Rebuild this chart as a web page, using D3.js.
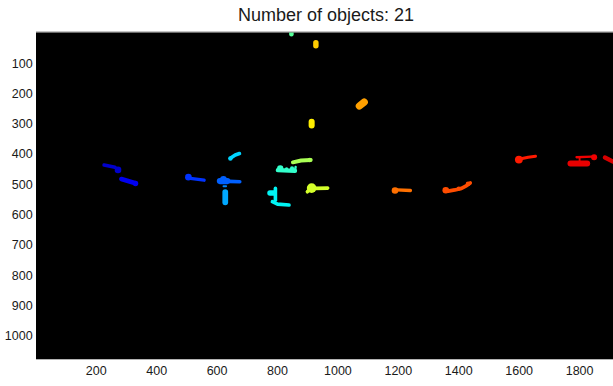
<!DOCTYPE html>
<html>
<head>
<meta charset="utf-8">
<script src="https://cdn.jsdelivr.net/npm/d3@7"></script>
<style>
  html, body { margin: 0; padding: 0; background: #fff; }
  svg { display: block; }
  text { font-family: "Liberation Sans", Arial, Helvetica, sans-serif; fill: #1a1a1a; }
</style>
</head>
<body>
<svg id="chart" width="613" height="386"></svg>
<script>
// ---- data (image pixel coordinates, 1920 x 1080 label image) ----
const titleText = "Number of objects: 21";
const xTicks = [200, 400, 600, 800, 1000, 1200, 1400, 1600, 1800];
const yTicks = [100, 200, 300, 400, 500, 600, 700, 800, 900, 1000];
const imageSize = [1920, 1080];

// label colours (jet-like, ordered by label)
const objectColors = [
  "#0000cc", "#0000f0", "#0033ff", "#0060ff", "#0088ff", "#00a8ff", "#00d4ff",
  "#00f4f4", "#33ffcc", "#55ff99", "#aaff55", "#d4ff2a", "#ffee00", "#ffcc00",
  "#ffa000", "#ff7000", "#ff4d00", "#ff1a00", "#f00000", "#e80000", "#d80000"
];

// each object: list of strokes, a stroke = [width, [x,y], [x,y], ...]
const objectStrokes = [
  [[12, [226,439], [262,446]], [22, [272,455]]],
  [[15, [283,485], [330,499]], [18, [330,500]]],
  [[22, [505,479]], [11, [505,482], [557,489]]],
  [[20, [609,492], [634,492]], [22, [621,486]], [12, [640,493], [675,494]]],
  [[6, [621,509], [630,509]]],
  [[19, [627,528], [627,562]]],
  [[12, [645,416], [660,406], [674,401]], [15, [644,417]]],
  [[12, [793,516], [793,555]], [18, [775,531], [789,531]], [12, [783,560], [800,568], [838,571]]],
  [[14, [801,456], [858,458]], [21, [809,450]], [12, [830,452]], [14, [848,450]], [8, [858,456], [860,445]]],
  [[15, [846,-10], [846,7]]],
  [[13, [851,430], [878,424], [910,422]], [15, [907,422]]],
  [[32, [913,515]], [12, [899,527], [906,521]], [12, [925,516], [966,515]]],
  [[20, [913,296], [913,308]]],
  [[18, [927,35], [927,45]]],
  [[24, [1071,244], [1087,231]]],
  [[22, [1189,523]], [11, [1195,521], [1240,523]]],
  [[22, [1357,522]], [12, [1365,525], [1387,521], [1409,516], [1426,507], [1438,498]], [14, [1400,517]], [16, [1431,501]]],
  [[26, [1599,421]], [10, [1606,418], [1630,413], [1654,410]]],
  [[8, [1790,413], [1840,411]], [20, [1848,413]], [6, [1800,413], [1800,428]]],
  [[20, [1770,434], [1825,434]]],
  [[14, [1884,414], [1912,428], [1925,432]]]
];

// ---- drawing ----
const svg = d3.select("#chart");
const plot = { left: 36, top: 32.3, right: 616, bottom: 359.3 };

const x = d3.scaleLinear().domain([0.5, imageSize[0] + 0.5]).range([plot.left, plot.right]);
const y = d3.scaleLinear().domain([0.5, imageSize[1] + 0.5]).range([plot.top, plot.bottom]);
const k = x(1) - x(0);

svg.append("defs").append("clipPath").attr("id", "clip")
  .append("rect")
  .attr("x", plot.left).attr("y", plot.top)
  .attr("width", plot.right - plot.left).attr("height", plot.bottom - plot.top);

svg.append("rect")
  .attr("x", plot.left).attr("y", plot.top)
  .attr("width", plot.right - plot.left).attr("height", plot.bottom - plot.top)
  .attr("fill", "#000");

const line = d3.line().x(d => x(d[0])).y(d => y(d[1])).curve(d3.curveLinear);

const g = svg.append("g").attr("clip-path", "url(#clip)");
objectStrokes.forEach((strokes, i) => {
  const og = g.append("g").attr("class", "object");
  strokes.forEach(s => {
    const w = s[0];
    let pts = s.slice(1);
    if (pts.length === 1) pts = [pts[0], [pts[0][0] + 0.01, pts[0][1]]];
    og.append("path")
      .attr("d", line(pts))
      .attr("fill", "none")
      .attr("stroke", objectColors[i])
      .attr("stroke-width", w * k)
      .attr("stroke-linecap", "round")
      .attr("stroke-linejoin", "round");
  });
});

// top border
svg.append("line")
  .attr("x1", plot.left).attr("x2", plot.right)
  .attr("y1", plot.top - 0.3).attr("y2", plot.top - 0.3)
  .attr("stroke", "#8a8a8a").attr("stroke-width", 1);

// x tick labels
svg.append("g").selectAll("text").data(xTicks).join("text")
  .attr("x", d => x(d)).attr("y", 375.3)
  .attr("text-anchor", "middle")
  .style("font-size", "12.5px")
  .text(d => d);

// y tick labels
svg.append("g").selectAll("text").data(yTicks).join("text")
  .attr("x", 32.6).attr("y", d => y(d) + 5.2)
  .attr("text-anchor", "end")
  .style("font-size", "12.5px")
  .text(d => d);

// title
svg.append("text")
  .attr("x", (plot.left + plot.right) / 2).attr("y", 20.7)
  .attr("text-anchor", "middle")
  .style("font-size", "18px")
  .text(titleText);
</script>
</body>
</html>
